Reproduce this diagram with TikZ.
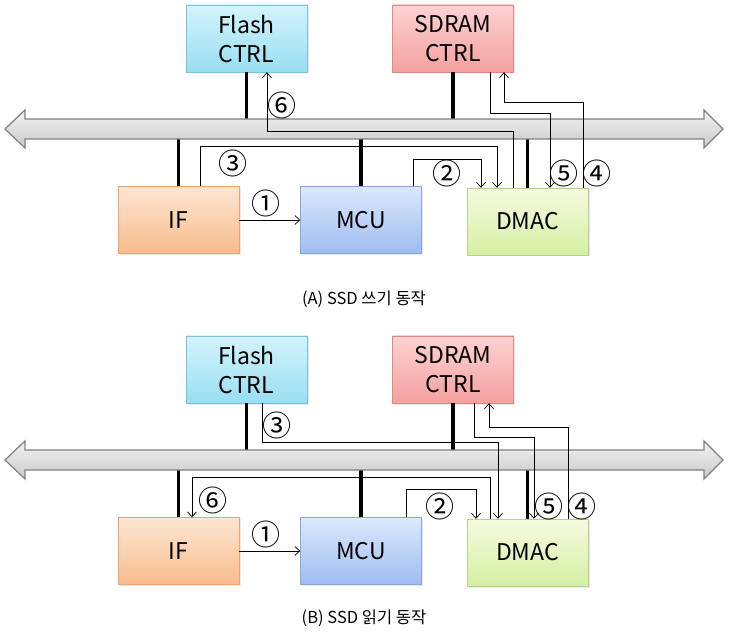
\documentclass[tikz,border=0pt]{standalone}
\usepackage{fontspec}
\setmainfont{Noto Sans CJK KR}
\usetikzlibrary{arrows.meta,shadows}

\definecolor{flashtop}{HTML}{D4F4FC}
\definecolor{flashbot}{HTML}{98DEF2}
\definecolor{flashline}{HTML}{7CC2DA}
\definecolor{sdramtop}{HTML}{FDD2D2}
\definecolor{sdrambot}{HTML}{F4A0A0}
\definecolor{sdramline}{HTML}{DE8A8A}
\definecolor{iftop}{HTML}{FDE6D2}
\definecolor{ifbot}{HTML}{F8BC8C}
\definecolor{ifline}{HTML}{E8A676}
\definecolor{mcutop}{HTML}{DCE8FC}
\definecolor{mcubot}{HTML}{9EBDF0}
\definecolor{mculine}{HTML}{86A8DE}
\definecolor{dmactop}{HTML}{F4FBE0}
\definecolor{dmacbot}{HTML}{D6EFA2}
\definecolor{dmacline}{HTML}{B4D48A}

\tikzset{
  block/.style={minimum width=121, minimum height=67, inner sep=0pt, align=center,
    font=\fontsize{23}{29}\selectfont,
    drop shadow={opacity=0.18, shadow xshift=1.5pt, shadow yshift=-1.5pt}},
  flashbox/.style={block, draw=flashline, top color=flashtop, bottom color=flashbot},
  sdrambox/.style={block, draw=sdramline, top color=sdramtop, bottom color=sdrambot},
  ifbox/.style={block, draw=ifline, top color=iftop, bottom color=ifbot},
  mcubox/.style={block, draw=mculine, top color=mcutop, bottom color=mcubot},
  dmacbox/.style={block, draw=dmacline, top color=dmactop, bottom color=dmacbot},
  link/.style={line width=3.5pt},
  flow/.style={line width=0.7pt, -{Straight Barb[length=5pt,width=9pt]}},
  num/.style={inner sep=0pt, font=\fontsize{29}{29}\selectfont},
  caption/.style={font=\fontsize{16.5}{16.5}\selectfont},
  busline/.style={draw=gray, line width=1.2pt, top color=gray!10, bottom color=gray!42}
}

\begin{document}
\begin{tikzpicture}[x=1pt, y=-1pt]
\useasboundingbox (0,0) rectangle (729,639);

% (A) SSD 쓰기 동작
\begin{scope}
\node[flashbox] (fA) at (246.5,38.5) {Flash\\CTRL};
\node[sdrambox] (sA) at (453,38.5) {SDRAM\\CTRL};
\node[ifbox] (iA) at (178.5,220) {IF};
\node[mcubox] (mA) at (361,220) {MCU};
\node[dmacbox] (dA) at (527.5,221.5) {DMAC};
\coordinate (busAtop) at (0,119);
\coordinate (busAbot) at (0,139);
\draw[link] (fA.south) -- (fA.south |- busAtop);
\draw[link] (sA.south) -- (sA.south |- busAtop);
\draw[link] (iA.north) -- (iA.north |- busAbot);
\draw[link] (mA.north) -- (mA.north |- busAbot);
\draw[link] (dA.north) -- (dA.north |- busAbot);
\path[busline] (5,129) -- (25,110) -- (25,119) -- (704,119) -- (704,110) -- (723,129)
  -- (704,148) -- (704,139) -- (25,139) -- (25,148) -- cycle;
\draw[flow] (iA.east) -- (mA.west);
\draw[flow] ([xshift=52pt]mA.north) -- ++(0,-27) -| ([xshift=-46.5pt]dA.north);
\draw[flow] ([xshift=21.5pt]iA.north) -- ++(0,-40) -| ([xshift=-30.5pt]dA.north);
\draw[flow] ([xshift=55.5pt]dA.north) -- ++(0,-85) -| ([xshift=51pt]sA.south);
\draw[flow] ([xshift=37pt]sA.south) -- ++(0,41) -| ([xshift=22.5pt]dA.north);
\draw[flow] ([xshift=-14.5pt]dA.north) -- ++(0,-56) -| ([xshift=20.5pt]fA.south);
\node[num] (nA1) at (266,203) {①};
\node[num] (nA2) at (447,173) {②};
\node[num] (nA3) at (233,163) {③};
\node[num] (nA4) at (597,173) {④};
\node[num] (nA5) at (564,173) {⑤};
\node[num] (nA6) at (282,105) {⑥};
\node[caption] (capA) at (364,299) {(A) SSD 쓰기 동작};
\end{scope}

% (B) SSD 읽기 동작
\begin{scope}[shift={(0,331)}]
\node[flashbox] (fB) at (246.5,38.5) {Flash\\CTRL};
\node[sdrambox] (sB) at (453,38.5) {SDRAM\\CTRL};
\node[ifbox] (iB) at (178.5,220) {IF};
\node[mcubox] (mB) at (361,220) {MCU};
\node[dmacbox] (dB) at (527.5,221.5) {DMAC};
\coordinate (busBtop) at (0,119);
\coordinate (busBbot) at (0,139);
\draw[link] (fB.south) -- (fB.south |- busBtop);
\draw[link] (sB.south) -- (sB.south |- busBtop);
\draw[link] (iB.north) -- (iB.north |- busBbot);
\draw[link] (mB.north) -- (mB.north |- busBbot);
\draw[link] (dB.north) -- (dB.north |- busBbot);
\path[busline] (5,129) -- (25,110) -- (25,119) -- (704,119) -- (704,110) -- (723,129)
  -- (704,148) -- (704,139) -- (25,139) -- (25,148) -- cycle;
\draw[flow] (iB.east) -- (mB.west);
\draw[flow] ([xshift=45pt]mB.north) -- ++(0,-28) -| ([xshift=-51.5pt]dB.north);
\draw[flow] ([xshift=15.5pt]fB.south) -- ++(0,39) -| ([xshift=-29.5pt]dB.north);
\draw[flow] ([xshift=40.5pt]dB.north) -- ++(0,-91) -| ([xshift=36pt]sB.south);
\draw[flow] ([xshift=21pt]sB.south) -- ++(0,34) -| ([xshift=6.5pt]dB.north);
\draw[flow] ([xshift=-37.5pt]dB.north) -- ++(0,-41) -| ([xshift=13.5pt]iB.north);
\node[num] (nB1) at (266,203) {①};
\node[num] (nB2) at (440,175) {②};
\node[num] (nB3) at (277,94) {③};
\node[num] (nB4) at (582,175) {④};
\node[num] (nB5) at (549,175) {⑤};
\node[num] (nB6) at (213,169) {⑥};
\node[caption] (capB) at (364,287) {(B) SSD 읽기 동작};
\end{scope}
\end{tikzpicture}
\end{document}
